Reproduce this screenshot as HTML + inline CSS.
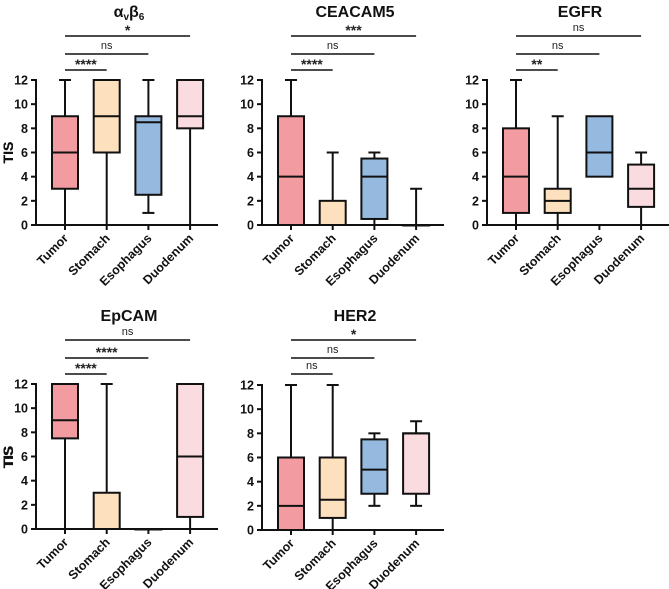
<!DOCTYPE html>
<html><head><meta charset="utf-8"><style>
html,body{margin:0;padding:0;background:#fff;}
svg{display:block;font-family:"Liberation Sans",Arial,sans-serif;}
</style></head><body>
<svg id="fig" width="669" height="589" viewBox="0 0 669 589"></svg>
<script>
const categories = ["Tumor","Stomach","Esophagus","Duodenum"];
const colors = ["#f29ca1","#fde0be","#95b9df","#fadbdf"];
const panelTitles = ["αvβ6","CEACAM5","EGFR","EpCAM","HER2"];
const yTicks = [0,2,4,6,8,10,12];
// each box: [min, q1, median, q3, max]
const avb6 = [[0,3,6,9,12],[0,6,9,12,12],[1,2.5,8.5,9,12],[0,8,9,12,12]];
const ceacam5 = [[0,0,4,9,12],[0,0,0,2,6],[0,0.5,4,5.5,6],[0,0,0,0,3]];
const egfr = [[0,1,4,8,12],[0,1,2,3,9],[4,4,6,9,9],[0,1.5,3,5,6]];
const epcam = [[0,7.5,9,12,12],[0,0,0,3,12],[0,0,0,0,0],[0,1,6,12,12]];
const her2 = [[0,0,2,6,12],[0,1,2.5,6,12],[2,3,5,7.5,8],[2,3,8,8,9]];
const sigLabels = [["****","ns","*"],["****","ns","***"],["**","ns","ns"],["****","****","ns"],["ns","ns","*"]];
const allData = [avb6,ceacam5,egfr,epcam,her2];

const NS="http://www.w3.org/2000/svg";
const svg=document.getElementById('fig');
function mk(tag,attrs,parent,text){const e=document.createElementNS(NS,tag);for(const k in attrs)e.setAttribute(k,attrs[k]);if(text!==undefined)e.textContent=text;(parent||svg).appendChild(e);return e;}

const layouts=[{ax:36,y0:225,y12:80,top:0},{ax:262,y0:225,y12:80,top:0},{ax:487,y0:225,y12:80,top:0},{ax:36,y0:529,y12:384,top:304},{ax:262,y0:530,y12:385,top:304}];

layouts.forEach((L,p)=>{
  const g=mk('g',{});
  
  
  const yS=v=>L.y0+(L.y12-L.y0)*v/12;
  const xS=i=>L.ax+29+i*41.7;
  const axEnd=L.ax+182;
  let t=mk('text',{x:(L.ax+axEnd)/2+2,y:L.top+17,'text-anchor':'middle','font-size':'16','font-weight':'bold',fill:'#111'},g);
  if(p===0){t.textContent='α';mk('tspan',{'font-size':'10',dy:'3'},t,'v');mk('tspan',{'font-size':'16',dy:'-3'},t,'β');mk('tspan',{'font-size':'10',dy:'3'},t,'6');}
  else t.textContent=panelTitles[p];
  
  
  const yl=mk('text',{x:0,y:0,transform:`translate(13,${(L.y0+L.y12)/2}) rotate(-90)`,'text-anchor':'middle','font-size':'14','font-weight':'bold',fill:'#111'},g,'TIS');
  
  
  mk('line',{x1:L.ax,y1:L.y12-1,x2:L.ax,y2:L.y0,stroke:'#111','stroke-width':2},g);
  mk('line',{x1:L.ax-5,y1:L.y0,x2:axEnd,y2:L.y0,stroke:'#111','stroke-width':2},g);
  yTicks.forEach(v=>{
    mk('line',{x1:L.ax-5,y1:yS(v),x2:L.ax,y2:yS(v),stroke:'#111','stroke-width':2},g);
    const tl=mk('text',{x:L.ax-8,y:yS(v)+4.5,'text-anchor':'end','font-size':'12.5','font-weight':'bold',fill:'#111'},g,String(v));
    
    
  });
  allData[p].forEach((d,i)=>{
    const cx=xS(i),w=26;
    mk('line',{x1:cx,y1:L.y0,x2:cx,y2:L.y0+5,stroke:'#111','stroke-width':2},g);
    const wl=mk('line',{x1:cx,y1:yS(d[0]),x2:cx,y2:yS(d[4]),stroke:'#111','stroke-width':2},g);
    
    
    if(d[4]>d[3])mk('line',{x1:cx-6,y1:yS(d[4]),x2:cx+6,y2:yS(d[4]),stroke:'#111','stroke-width':2},g);
    if(d[0]<d[1])mk('line',{x1:cx-6,y1:yS(d[0]),x2:cx+6,y2:yS(d[0]),stroke:'#111','stroke-width':2},g);
    const r=mk('rect',{x:cx-w/2,y:yS(d[3]),width:w,height:Math.max(yS(d[1])-yS(d[3]),0.5),fill:colors[i],stroke:'#111','stroke-width':2},g);
    
    
    mk('line',{x1:cx-w/2,y1:yS(d[2]),x2:cx+w/2,y2:yS(d[2]),stroke:'#111','stroke-width':2},g);
    const xl=mk('text',{x:0,y:0,transform:`translate(${cx+4},${L.y0+14}) rotate(-45)`,'text-anchor':'end','font-size':'12.5','font-weight':'bold',fill:'#111'},g,categories[i]);
    
    
  });
  const barY=[L.top+70,L.top+54,L.top+36];
  sigLabels[p].forEach((s,k)=>{
    const by=barY[k];
    const bl=mk('line',{x1:xS(0),y1:by,x2:xS(k+1),y2:by,stroke:'#111','stroke-width':1.6},g);
    
    
    const ns=s==='ns';
    const st=mk('text',{x:(xS(0)+xS(k+1))/2,y:ns?by-5:by-1,'text-anchor':'middle','font-size':ns?'11':'14','font-weight':ns?'normal':'bold',fill:'#222'},g,s);
    
    
  });
});
</script>
</body></html>
